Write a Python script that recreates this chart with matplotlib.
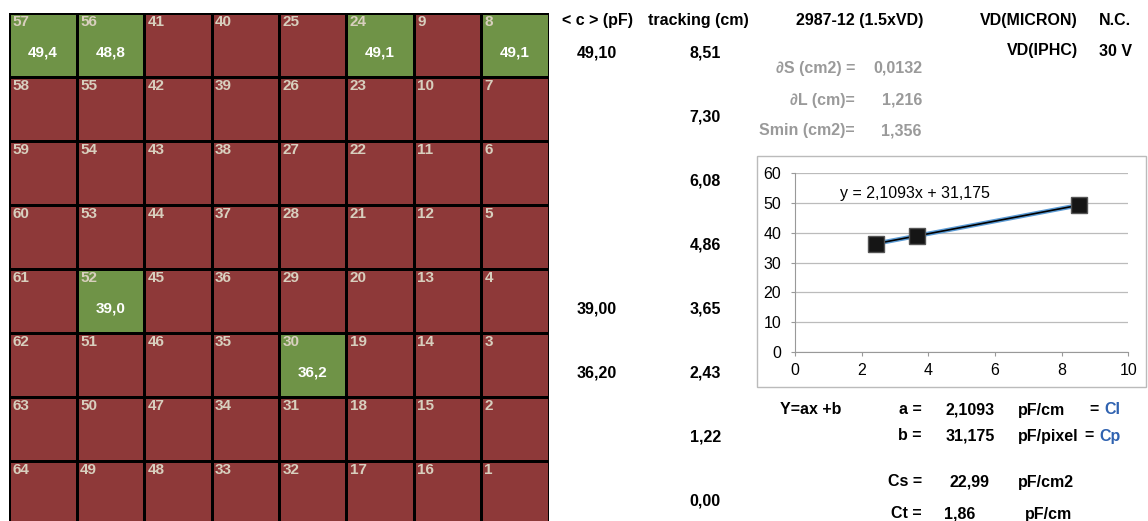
import matplotlib.pyplot as plt
from matplotlib.colors import ListedColormap
from matplotlib.patches import Rectangle
import numpy as np

W, H = 1148, 521

# pixel ids of the 8x8 matrix, as laid out on the sensor
cell_ids = [
    [57, 56, 41, 40, 25, 24, 9, 8],
    [58, 55, 42, 39, 26, 23, 10, 7],
    [59, 54, 43, 38, 27, 22, 11, 6],
    [60, 53, 44, 37, 28, 21, 12, 5],
    [61, 52, 45, 36, 29, 20, 13, 4],
    [62, 51, 46, 35, 30, 19, 14, 3],
    [63, 50, 47, 34, 31, 18, 15, 2],
    [64, 49, 48, 33, 32, 17, 16, 1],
]
# measured capacitance (pF) on the tested pixels
measured_ids = [57, 56, 24, 8, 52, 30]
measured_c = [49.4, 48.8, 49.1, 49.1, 39.0, 36.2]

mean_rows = [0, 4, 5]
mean_c = [49.10, 39.00, 36.20]
tracking = [8.51, 7.30, 6.08, 4.86, 3.65, 2.43, 1.22, 0.00]

fit_x = [2.43, 3.65, 8.51]
fit_y = [36.2, 39.0, 49.1]
slope, intercept = 2.1093, 31.175

dS, dL, Smin = 0.0132, 1.216, 1.356
Cs, Ct = 22.99, 1.86

RED = '#8E3939'
GREEN = '#6F9347'
BEIGE = '#D8CFBE'
GREY = '#9A9A9A'
BLUE = '#2F62B0'
FS = 11.5

plt.rcParams['font.family'] = ['Liberation Sans', 'DejaVu Sans']


def fr(v, nd):
    return f"{v:.{nd}f}".replace('.', ',')


def fx(x):
    return x / W


def fy(y):
    return 1 - y / H


fig = plt.figure(figsize=(W / 100, H / 100), dpi=100)


def txt(x, y, s, ha='left', color='black', weight='bold'):
    fig.text(fx(x), fy(y), s, ha=ha, va='center', color=color,
             fontsize=FS, fontweight=weight)


# --- pixel matrix
gx0, gy0, cw, ch = 9.3, 13.3, 67.4, 64.0
axg = fig.add_axes([fx(gx0), fy(gy0 + 8 * ch), 8 * cw / W, 8 * ch / H])
flag = np.zeros((8, 8))
for r in range(8):
    for c in range(8):
        if cell_ids[r][c] in measured_ids:
            flag[r, c] = 1
axg.pcolormesh(flag, cmap=ListedColormap([RED, GREEN]), edgecolors='black',
               linewidth=0.8, vmin=0, vmax=1, antialiased=False)
axg.set_xlim(0, 8)
axg.set_ylim(8, 0)
axg.axis('off')
for r in range(8):
    for c in range(8):
        pid = cell_ids[r][c]
        axg.text(c + 0.05, r + 0.14, str(pid), ha='left', va='center',
                 color=BEIGE, fontsize=11, fontweight='bold')
        if pid in measured_ids:
            v = measured_c[measured_ids.index(pid)]
            axg.text(c + 0.5, r + 0.61, fr(v, 1), ha='center', va='center',
                     color='white', fontsize=11, fontweight='bold')

# --- table columns
row_y = [gy0 + ch * i + 40 for i in range(8)]
txt(597, 20.5, '< c > (pF)', ha='center')
txt(698, 20.5, 'tracking (cm)', ha='center')
txt(860, 20.5, '2987-12 (1.5xVD)', ha='center')
txt(1078, 20.5, 'VD(MICRON)', ha='right')
txt(1099, 20.5, 'N.C.')
txt(1078, 51, 'VD(IPHC)', ha='right')
txt(1099, 51, '30 V')
for r, v in zip(mean_rows, mean_c):
    txt(597, row_y[r], fr(v, 2), ha='center')
for i, v in enumerate(tracking):
    txt(721, row_y[i], fr(v, 2), ha='right')

txt(855, 68, '∂S (cm2) =', ha='right', color=GREY)
txt(922, 68, fr(dS, 4), ha='right', color=GREY)
txt(855, 100, '∂L (cm)=', ha='right', color=GREY)
txt(922, 100, fr(dL, 3), ha='right', color=GREY)
txt(855, 131, 'Smin (cm2)=', ha='right', color=GREY)
txt(922, 131, fr(Smin, 3), ha='right', color=GREY)

# --- fit chart
fig.add_artist(Rectangle((fx(757), fy(387.3)), (1146 - 757) / W, (387.3 - 156) / H,
                         transform=fig.transFigure, fill=False,
                         edgecolor='#BBBBBB', linewidth=1))
ax = fig.add_axes([fx(795), fy(352.3), 333.3 / W, 179.6 / H])
ax.set_xlim(0, 10)
ax.set_ylim(0, 60)
ax.set_xticks(np.arange(0, 11, 2))
ax.set_yticks(np.arange(0, 61, 10))
ax.grid(axis='y', color='#BBBBBB', linewidth=0.9)
ax.set_axisbelow(True)
for s in ['top', 'right']:
    ax.spines[s].set_visible(False)
for s in ['left', 'bottom']:
    ax.spines[s].set_color('#999999')
ax.tick_params(length=3, color='#999999', labelsize=FS, pad=5)
ax.tick_params(axis='y', pad=7)

xs = np.array([min(fit_x), max(fit_x)])
ax.plot(xs, slope * xs + intercept, color='#5B9BD5', linewidth=3.2, zorder=2)
ax.plot(xs, slope * xs + intercept, color='black', linewidth=1.2, zorder=3)
ax.plot(fit_x, fit_y, 's', ms=11, color='#151515', mec='#555555', zorder=4)
ax.text(1.35, 53.2, f"y = {fr(slope, 4)}x + {fr(intercept, 3)}", fontsize=FS,
        va='center', ha='left')

# --- fit results
txt(780, 410, 'Y=ax +b')
txt(922, 410, 'a =', ha='right')
txt(995, 410, fr(slope, 4), ha='right')
txt(1018, 410, 'pF/cm')
txt(1090, 410, '= ')
fig.text(fx(1104), fy(410), 'Cl', color=BLUE, fontsize=FS, fontweight='bold', va='center')
txt(922, 436, 'b =', ha='right')
txt(995, 436, fr(intercept, 3), ha='right')
txt(1018, 436, 'pF/pixel')
txt(1085, 436, '= ')
fig.text(fx(1099), fy(436), 'Cp', color=BLUE, fontsize=FS, fontweight='bold', va='center')
txt(922, 482, 'Cs =', ha='right')
txt(990, 482, fr(Cs, 2), ha='right')
txt(1018, 482, 'pF/cm2')
txt(922, 514, 'Ct =', ha='right')
txt(975, 514, fr(Ct, 2), ha='right')
txt(1025, 514, 'pF/cm')

fig.savefig('out.png', dpi=100)
